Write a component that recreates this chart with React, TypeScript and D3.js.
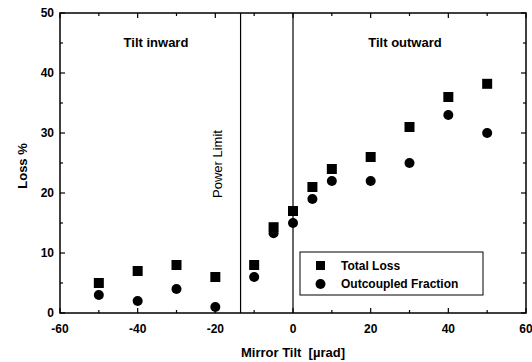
import React from "react";
import * as d3 from "d3";

const tilt = [-50, -40, -30, -20, -10, -5, 0, 5, 10, 20, 30, 40, 50];
const totalLoss = [5, 7, 8, 6, 8, 14.3, 17, 21, 24, 26, 31, 36, 38.2];
const outcoupled = [3, 2, 4, 1, 6, 13.3, 15, 19, 22, 22, 25, 33, 30];
const xTicks = [-60, -40, -20, 0, 20, 40, 60];
const yTicks = [0, 10, 20, 30, 40, 50];
const powerLimit = -13.5;

export default function App() {
  const W = 532, H = 362;
  const left = 60, right = 526, top = 13, bottom = 313;
  const x = d3.scaleLinear().domain([-60, 60]).range([left, right]);
  const y = d3.scaleLinear().domain([0, 50]).range([bottom, top]);
  const font = "Arial, 'Liberation Sans', sans-serif";
  const xMinor = d3.range(-60, 61, 10);
  const yMinor = d3.range(0, 51, 5);
  const sym = d3.symbol().type(d3.symbolCircle).size(Math.PI * 25)();
  return (
    <svg width={W} height={H} style={{ position: "absolute", left: 0, top: 0 }} fontFamily={font}>
      <rect x={0} y={0} width={W} height={H} fill="#fff" />
      <rect x={left} y={top} width={right - left} height={bottom - top} fill="none" stroke="#000" strokeWidth={1.5} />
      {xMinor.map((v) => {
        const major = v % 20 === 0;
        const l = major ? 5 : 3;
        return (
          <g key={"xt" + v}>
            <line x1={x(v)} x2={x(v)} y1={bottom} y2={bottom - l} stroke="#000" strokeWidth={1.2} />
            <line x1={x(v)} x2={x(v)} y1={top} y2={top + l} stroke="#000" strokeWidth={1.2} />
          </g>
        );
      })}
      {yMinor.map((v) => {
        const major = v % 10 === 0;
        const l = major ? 5 : 3;
        return (
          <g key={"yt" + v}>
            <line x1={left} x2={left + l} y1={y(v)} y2={y(v)} stroke="#000" strokeWidth={1.2} />
            <line x1={right} x2={right - l} y1={y(v)} y2={y(v)} stroke="#000" strokeWidth={1.2} />
          </g>
        );
      })}
      {xTicks.map((v) => (
        <text key={"xl" + v} x={x(v)} y={333} textAnchor="middle" fontSize={12} fontWeight="bold">{v}</text>
      ))}
      {yTicks.map((v) => (
        <text key={"yl" + v} x={54} y={y(v) + 4} textAnchor="end" fontSize={12} fontWeight="bold">{v}</text>
      ))}
      <line x1={x(powerLimit)} x2={x(powerLimit)} y1={top} y2={bottom} stroke="#000" strokeWidth={1.2} />
      <line x1={x(0)} x2={x(0)} y1={top} y2={bottom} stroke="#000" strokeWidth={1.2} />
      <text x={156} y={47} textAnchor="middle" fontSize={13} fontWeight="bold">Tilt inward</text>
      <text x={405} y={47} textAnchor="middle" fontSize={13} fontWeight="bold">Tilt outward</text>
      <text transform={`translate(222,164) rotate(-90)`} textAnchor="middle" fontSize={13}>Power Limit</text>
      {tilt.map((t, i) => (
        <rect key={"s" + i} x={x(t) - 5} y={y(totalLoss[i]) - 5} width={10} height={10} fill="#000" />
      ))}
      {tilt.map((t, i) => (
        <path key={"c" + i} d={sym!} transform={`translate(${x(t)},${y(outcoupled[i])})`} fill="#000" />
      ))}
      <rect x={300} y={252} width={183} height={43} fill="#fff" stroke="#000" strokeWidth={1} />
      <rect x={316} y={261} width={9} height={9} fill="#000" />
      <path d={sym!} transform="translate(320.5,284)" fill="#000" />
      <text x={341} y={270} fontSize={12} fontWeight="bold">Total Loss</text>
      <text x={341} y={288} fontSize={12} fontWeight="bold">Outcoupled Fraction</text>
      <text x={293} y={357} textAnchor="middle" fontSize={13} fontWeight="bold" style={{ whiteSpace: "pre" }}>{"Mirror Tilt  [µrad]"}</text>
      <text transform="translate(27,166) rotate(-90)" textAnchor="middle" fontSize={13} fontWeight="bold">Loss %</text>
    </svg>
  );
}
